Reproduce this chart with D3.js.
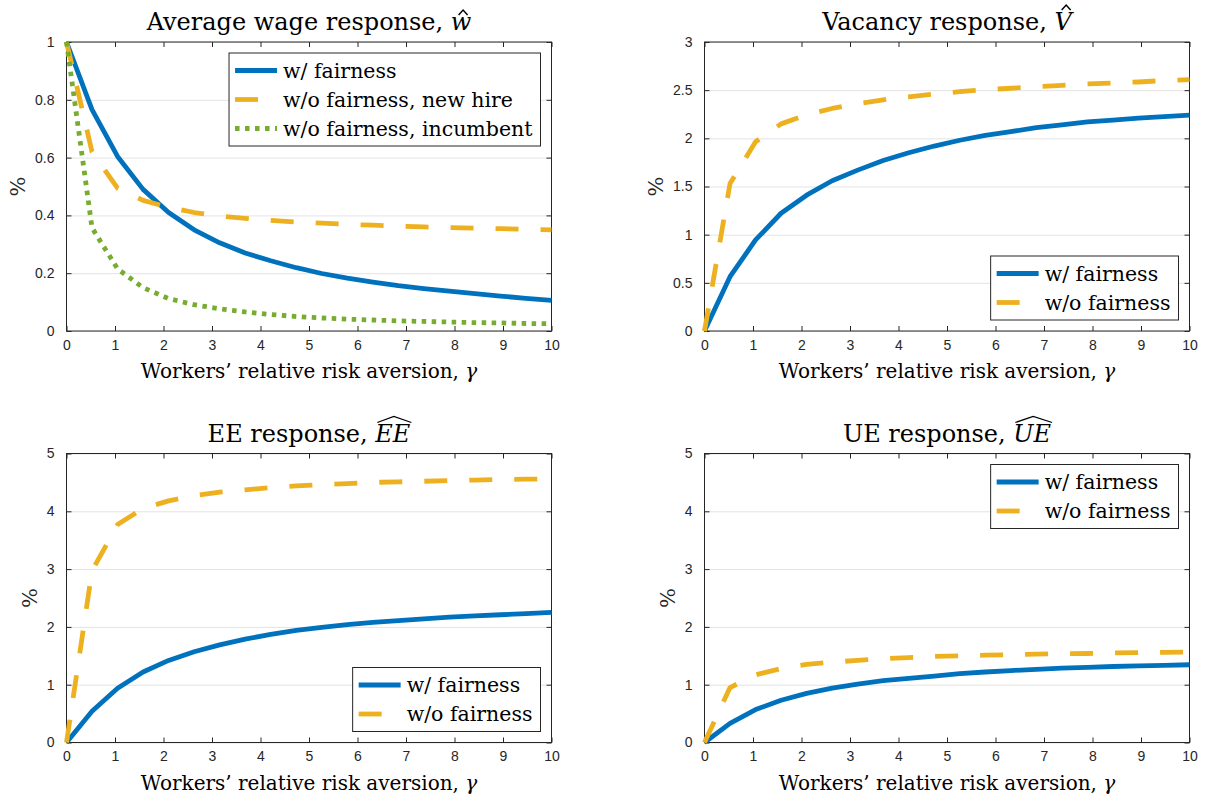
<!DOCTYPE html>
<html><head><meta charset="utf-8">
<script src="https://cdn.jsdelivr.net/npm/d3@7"></script>
<style>body{margin:0;background:#fff}</style>
</head><body>
<svg id="chart" width="1206" height="802"></svg>
<script>
// ---------- data ----------
const gamma = [0, 0.526, 1.053, 1.579, 2.105, 2.632, 3.158, 3.684, 4.211, 4.737, 5.263, 5.789, 6.316, 6.842, 7.368, 7.895, 8.421, 8.947, 9.474, 10];

const wageFair      = [1, 0.766, 0.604, 0.49, 0.41, 0.35, 0.305, 0.27, 0.243, 0.219, 0.199, 0.183, 0.169, 0.157, 0.147, 0.138, 0.129, 0.121, 0.113, 0.106];
const wageNewHire   = [1, 0.62, 0.494, 0.452, 0.428, 0.41, 0.398, 0.39, 0.383, 0.377, 0.373, 0.369, 0.366, 0.363, 0.36, 0.358, 0.356, 0.354, 0.352, 0.35];
const wageIncumbent = [1, 0.357, 0.215, 0.15, 0.112, 0.091, 0.077, 0.066, 0.057, 0.05, 0.045, 0.041, 0.038, 0.035, 0.033, 0.031, 0.029, 0.028, 0.026, 0.025];

const vacFair   = [0, 0.564, 0.945, 1.222, 1.41, 1.56, 1.67, 1.77, 1.85, 1.92, 1.98, 2.03, 2.07, 2.11, 2.14, 2.17, 2.19, 2.21, 2.225, 2.24];
const vacNoFair = [0, 1.53, 1.965, 2.15, 2.245, 2.31, 2.36, 2.4, 2.43, 2.46, 2.485, 2.505, 2.52, 2.535, 2.55, 2.565, 2.575, 2.585, 2.6, 2.61];

const eeFair   = [0, 0.54, 0.94, 1.22, 1.42, 1.57, 1.69, 1.79, 1.87, 1.94, 1.99, 2.04, 2.08, 2.11, 2.14, 2.17, 2.19, 2.21, 2.23, 2.25];
const eeNoFair = [0, 2.97, 3.77, 4.05, 4.18, 4.27, 4.33, 4.37, 4.41, 4.44, 4.46, 4.48, 4.5, 4.51, 4.52, 4.53, 4.54, 4.55, 4.555, 4.56];

const ueFair   = [0, 0.33, 0.57, 0.73, 0.85, 0.94, 1.01, 1.07, 1.11, 1.15, 1.19, 1.22, 1.245, 1.265, 1.285, 1.3, 1.315, 1.325, 1.335, 1.345];
const ueNoFair = [0, 0.95, 1.17, 1.28, 1.35, 1.39, 1.42, 1.45, 1.47, 1.49, 1.5, 1.51, 1.52, 1.53, 1.535, 1.54, 1.55, 1.555, 1.56, 1.565];

const xTicks = [0, 1, 2, 3, 4, 5, 6, 7, 8, 9, 10];
const xTickLabels = ["0", "1", "2", "3", "4", "5", "6", "7", "8", "9", "10"];
const wageTicks = [0, 0.2, 0.4, 0.6, 0.8, 1];
const wageTickLabels = ["0", "0.2", "0.4", "0.6", "0.8", "1"];
const vacTicks = [0, 0.5, 1, 1.5, 2, 2.5, 3];
const vacTickLabels = ["0", "0.5", "1", "1.5", "2", "2.5", "3"];
const flowTicks = [0, 1, 2, 3, 4, 5];
const flowTickLabels = ["0", "1", "2", "3", "4", "5"];

const labelFair = "w/ fairness";
const labelNoFair = "w/o fairness";
const labelNewHire = "w/o fairness, new hire";
const labelIncumbent = "w/o fairness, incumbent";
const xLabel = "Workers\u2019 relative risk aversion, ";
const yLabel = "%";

// ---------- styles ----------
const BLUE = "#0072BD", ORANGE = "#EDB120", GREEN = "#77AC30", AX = "#262626";
const SERIF = "'DejaVu Serif', serif";
const SANS = "'Liberation Sans', Arial, sans-serif";
const styles = {
  solid: {color: BLUE, dash: null},
  dash: {color: ORANGE, dash: "23,22"},
  dot: {color: GREEN, dash: "4.5,5.5"}
};

const W = 485, H = 289;
const panels = [
  {left: 66.5, top: 42, title: [{t: "Average wage response, "}, {t: "w", it: true, hat: "small"}],
   ticks: wageTicks, tickLabels: wageTickLabels, ymax: 1,
   series: [{v: wageFair, s: "solid", label: labelFair}, {v: wageNewHire, s: "dash", label: labelNewHire}, {v: wageIncumbent, s: "dot", label: labelIncumbent}],
   legend: "tr"},
  {left: 704.5, top: 42, title: [{t: "Vacancy response, "}, {t: "V", it: true, hat: "small"}],
   ticks: vacTicks, tickLabels: vacTickLabels, ymax: 3,
   series: [{v: vacFair, s: "solid", label: labelFair}, {v: vacNoFair, s: "dash", label: labelNoFair}],
   legend: "br"},
  {left: 66.5, top: 453.5, title: [{t: "EE response, "}, {t: "EE", it: true, hat: "wide"}],
   ticks: flowTicks, tickLabels: flowTickLabels, ymax: 5,
   series: [{v: eeFair, s: "solid", label: labelFair}, {v: eeNoFair, s: "dash", label: labelNoFair}],
   legend: "br"},
  {left: 704.5, top: 453.5, title: [{t: "UE response, "}, {t: "UE", it: true, hat: "wide"}],
   ticks: flowTicks, tickLabels: flowTickLabels, ymax: 5,
   series: [{v: ueFair, s: "solid", label: labelFair}, {v: ueNoFair, s: "dash", label: labelNoFair}],
   legend: "tr"}
];

const svg = d3.select("#chart");

panels.forEach(p => {
  const g = svg.append("g").attr("transform", `translate(${p.left},${p.top})`);
  const x = d3.scaleLinear().domain([0, 10]).range([0, W]);
  const y = d3.scaleLinear().domain([0, p.ymax]).range([H, 0]);

  // grid
  g.append("g").call(d3.axisLeft(y).tickValues(p.ticks).tickSize(-W).tickFormat(""))
    .call(a => a.select(".domain").remove())
    .call(a => a.selectAll("line").attr("stroke", "#e3e3e3").attr("stroke-width", 1));

  // axes with inward ticks on all four sides
  const bottom = g.append("g").attr("transform", `translate(0,${H})`)
    .call(d3.axisBottom(x).tickValues(xTicks).tickFormat((d, i) => xTickLabels[i]).tickSizeInner(-5).tickSizeOuter(0).tickPadding(12));
  const left = g.append("g")
    .call(d3.axisLeft(y).tickValues(p.ticks).tickFormat((d, i) => p.tickLabels[i]).tickSizeInner(-5).tickSizeOuter(0).tickPadding(12));
  g.append("g").call(d3.axisTop(x).tickValues(xTicks).tickFormat("").tickSizeInner(-5).tickSizeOuter(0));
  g.append("g").attr("transform", `translate(${W},0)`)
    .call(d3.axisRight(y).tickValues(p.ticks).tickFormat("").tickSizeInner(-5).tickSizeOuter(0));
  g.selectAll(".domain").remove();
  g.selectAll(".tick line").filter(function() { return this.getAttribute("stroke") !== "#e3e3e3"; })
    .attr("stroke", AX);
  g.selectAll(".tick text").attr("fill", AX).attr("font-family", SANS).attr("font-size", 14);
  bottom.selectAll(".tick text").attr("dy", "0.71em").attr("y", 9);
  g.append("rect").attr("width", W).attr("height", H).attr("fill", "none").attr("stroke", AX).attr("stroke-width", 1);

  // measure y tick label width for the y label position
  let maxW = 0;
  left.selectAll(".tick text").each(function() { maxW = Math.max(maxW, this.getComputedTextLength()); });

  // y label
  g.append("text").attr("transform", `translate(${-12 - maxW - 17},${H / 2}) rotate(-90)`)
    .attr("text-anchor", "middle").attr("dy", "0.35em")
    .attr("font-family", SERIF).attr("font-size", 21).attr("fill", AX).text(yLabel);

  // x label
  const xl = g.append("text").attr("x", W / 2).attr("y", H + 47).attr("text-anchor", "middle")
    .attr("font-family", SERIF).attr("font-size", 20).attr("fill", "#000");
  xl.append("tspan").text(xLabel);
  xl.append("tspan").attr("font-style", "italic").text("\u03B3");

  // data lines
  const line = d3.line().x((d, i) => x(gamma[i])).y(d => y(d));
  p.series.forEach(s => {
    const st = styles[s.s];
    g.append("path").datum(s.v).attr("d", line).attr("fill", "none")
      .attr("stroke", st.color).attr("stroke-width", 4.8)
      .attr("stroke-dasharray", st.dash).attr("stroke-linejoin", "round").attr("stroke-linecap", "butt");
  });

  // title
  const tt = g.append("text").attr("x", W / 2).attr("y", -12).attr("text-anchor", "middle")
    .attr("font-family", SERIF).attr("font-size", 24).attr("fill", "#000");
  let idx = 0;
  const hatParts = [];
  p.title.forEach(part => {
    tt.append("tspan").attr("font-style", part.it ? "italic" : null).text(part.t);
    if (part.hat) hatParts.push({start: idx, end: idx + part.t.length - 1, kind: part.hat});
    idx += part.t.length;
  });
  hatParts.forEach(h => {
    const node = tt.node();
    const x0 = node.getStartPositionOfChar(h.start).x;
    const x1 = node.getEndPositionOfChar(h.end).x;
    const base = -12;
    if (h.kind === "wide") {
      const yE = base - 19, yP = base - 25;
      g.append("path").attr("d", `M${x0 + 2},${yE} L${(x0 + x1) / 2 + 1},${yP} L${x1 + 1},${yE}`)
        .attr("fill", "none").attr("stroke", "#000").attr("stroke-width", 1.3);
    } else {
      const isCap = h.kind === "small" && /[A-Z]/.test(p.title[p.title.length - 1].t);
      const yE = base - (isCap ? 20 : 15), yP = yE - 5;
      const cx = (x0 + x1) / 2 + (isCap ? 3 : 2);
      g.append("path").attr("d", `M${cx - 4.5},${yE} L${cx},${yP} L${cx + 4.5},${yE}`)
        .attr("fill", "none").attr("stroke", "#000").attr("stroke-width", 1.5);
    }
  });

  // legend
  const rowH = 29, pad = 6, sample = 42, gap = 6;
  const lg = g.append("g");
  const texts = [];
  p.series.forEach((s, i) => {
    texts.push(lg.append("text").attr("font-family", SERIF).attr("font-size", 20.5).attr("fill", "#000")
      .attr("dy", "0.35em").text(s.label));
  });
  let tw = 0;
  texts.forEach(t => tw = Math.max(tw, t.node().getComputedTextLength()));
  const lw = pad + sample + gap + tw + 8;
  const lh = p.series.length * rowH + 6;
  const lx = W - 11 - lw;
  const ly = p.legend === "tr" ? 11 : H - 11 - lh;
  lg.insert("rect", ":first-child").attr("x", lx).attr("y", ly).attr("width", lw).attr("height", lh)
    .attr("fill", "#fff").attr("stroke", AX).attr("stroke-width", 1);
  p.series.forEach((s, i) => {
    const st = styles[s.s];
    const cy = ly + 3 + rowH / 2 + i * rowH;
    lg.append("line").attr("x1", lx + pad).attr("x2", lx + pad + sample).attr("y1", cy).attr("y2", cy)
      .attr("stroke", st.color).attr("stroke-width", 4.8).attr("stroke-dasharray", st.dash);
    texts[i].attr("x", lx + pad + sample + gap).attr("y", cy);
  });
});
</script>
</body></html>
